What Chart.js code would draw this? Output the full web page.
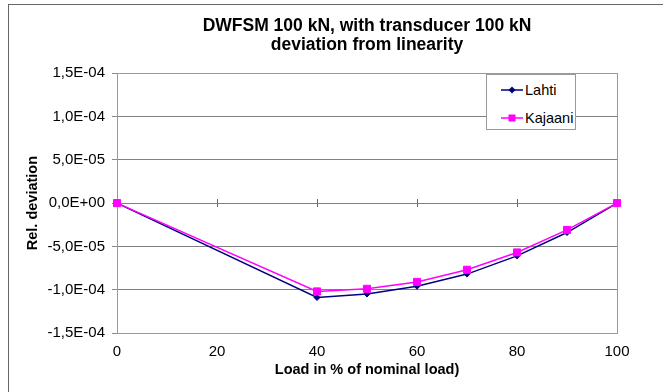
<!DOCTYPE html>
<html>
<head>
<meta charset="utf-8">
<script src="https://cdn.jsdelivr.net/npm/chart.js@4.4.1/dist/chart.umd.min.js"></script>
<style>
  html, body { margin: 0; padding: 0; background: #fff; overflow: hidden; }
  #wrap { position: relative; width: 663px; height: 392px; }
  #frame { position: absolute; left: 8px; top: 4px; width: 700px; height: 420px; border: 1.5px solid #666; box-sizing: border-box; pointer-events: none; }
  canvas { position: absolute; left: 0; top: 0; }
  #legend { position: absolute; left: 486px; top: 74px; width: 90px; height: 56px; background: #fff; border: 1px solid #9a9a9a; box-sizing: border-box; font-family: "Liberation Sans", Arial, sans-serif; font-size: 14.5px; color: #000; }
  .item { position: absolute; left: 0; height: 20px; display: flex; align-items: center; }
  .item svg { display: block; }
  .item span { margin-left: 2px; line-height: 20px; }
</style>
</head>
<body>
<div id="wrap">
  <canvas id="c" width="663" height="392"></canvas>
  <div id="legend"></div>
  <div id="frame"></div>
</div>
<script>
// ---- data ----
const loads = [0, 40, 50, 60, 70, 80, 90, 100];
const lahti = [0, -1.09e-4, -1.05e-4, -0.96e-4, -0.82e-4, -0.61e-4, -0.34e-4, 0];
const kajaani = [0, -1.02e-4, -0.99e-4, -0.91e-4, -0.77e-4, -0.57e-4, -0.31e-4, 0];
const seriesNames = ["Lahti", "Kajaani"];
const titleLines = ["DWFSM 100 kN, with transducer 100 kN", "deviation from linearity"];
const xTitle = "Load in % of nominal load)";
const yTitle = "Rel. deviation";

const FONT = '"Liberation Sans", Arial, sans-serif';
const colors = ["#000080", "#FF00FF"];
const styles = ["rectRot", "rect"];
const radii = [3, 5];

function sci(v) {
  if (Math.abs(v) < 1e-12) return "0,0E+00";
  const parts = v.toExponential(1).split("e");
  const e = parseInt(parts[1], 10);
  return parts[0].replace(".", ",") + "E" + (e < 0 ? "-" : "+") + String(Math.abs(e)).padStart(2, "0");
}

function pts(arr) { return loads.map((x, i) => ({ x: x, y: arr[i] })); }

const plotBorder = {
  id: "plotBorder",
  beforeDatasetsDraw(chart) {
    const a = chart.chartArea, ctx = chart.ctx;
    ctx.save();
    ctx.strokeStyle = "#9a9a9a";
    ctx.lineWidth = 1;
    ctx.strokeRect(Math.round(a.left) + 0.5, Math.round(a.top) + 0.5, Math.round(a.right - a.left), Math.round(a.bottom - a.top));
    ctx.restore();
  }
};

const chart = new Chart(document.getElementById("c"), {
  type: "line",
  data: {
    datasets: [
      { label: seriesNames[0], data: pts(lahti), borderColor: colors[0], backgroundColor: colors[0],
        borderWidth: 1.5, pointStyle: styles[0], pointRadius: radii[0], pointBorderWidth: 1, order: 1, clip: false, tension: 0 },
      { label: seriesNames[1], data: pts(kajaani), borderColor: colors[1], backgroundColor: colors[1],
        borderWidth: 1.5, pointStyle: styles[1], pointRadius: radii[1], pointBorderWidth: 1, order: 0, clip: false, tension: 0 }
    ]
  },
  options: {
    responsive: false,
    animation: false,
    devicePixelRatio: 1,
    layout: { padding: { left: 0, right: 46, top: 0, bottom: 0 } },
    plugins: {
      legend: { display: false },
      tooltip: { enabled: false },
      title: {
        display: true, text: titleLines, fullSize: false, color: "#000",
        font: { family: FONT, size: 17.5, weight: "bold", lineHeight: 1.09 },
        padding: { top: 16.5, bottom: 18.5 }
      }
    },
    scales: {
      x: {
        type: "linear", min: 0, max: 100, position: "bottom",
        ticks: { stepSize: 20, color: "#000", font: { family: FONT, size: 15 }, padding: 10, maxRotation: 0 },
        grid: { display: false, drawTicks: false },
        border: { display: false },
        title: { display: true, text: xTitle, color: "#000", font: { family: FONT, size: 14.5, weight: "bold" }, padding: { top: 0, bottom: 13.3 } },
        afterFit(s) { s.height = 59; }
      },
      x0a: {
        axis: "x", type: "linear", min: 0, max: 100, position: { y: 0 },
        ticks: { display: false, stepSize: 20 },
        grid: { drawOnChartArea: false, drawTicks: true, tickLength: 4, tickColor: "#666", color: "#666" },
        border: { display: false }
      },
      x0b: {
        axis: "x", type: "linear", min: 0, max: 100, position: { y: 0 },
        ticks: { display: false, stepSize: 20 },
        grid: { drawOnChartArea: false, drawTicks: true, tickLength: -4, tickColor: "#666", color: "#666" },
        border: { display: false }
      },
      y: {
        type: "linear", min: -1.5e-4, max: 1.5e-4, position: "left",
        ticks: { stepSize: 5e-5, color: "#000", font: { family: FONT, size: 15 }, padding: 7, callback: (v) => sci(v) },
        grid: { color: "#808080", lineWidth: 1, tickLength: 5, tickColor: "#8a8a8a" },
        border: { display: true, color: "#9a9a9a", width: 1 },
        title: { display: true, text: yTitle, color: "#000", font: { family: FONT, size: 14.5, weight: "bold" }, padding: { top: 24.3, bottom: 0 } },
        afterFit(s) { s.width = 117; }
      }
    }
  },
  plugins: [plotBorder]
});

// ---- HTML legend built from series ----
const legend = document.getElementById("legend");
const rowTops = [5, 33];
seriesNames.forEach((name, i) => {
  const item = document.createElement("div");
  item.className = "item";
  item.style.top = rowTops[i] + "px";
  const marker = styles[i] === "rect"
    ? '<rect x="21.5" y="6.5" width="7" height="7" fill="' + colors[i] + '"/>'
    : '<polygon points="25,6.5 28.5,10 25,13.5 21.5,10" fill="' + colors[i] + '"/>';
  item.innerHTML = '<svg width="36" height="20"><line x1="14" y1="10" x2="36" y2="10" stroke="' + colors[i] + '" stroke-width="1.5"/>' + marker + '</svg><span>' + name + '</span>';
  legend.appendChild(item);
});
</script>
</body>
</html>
